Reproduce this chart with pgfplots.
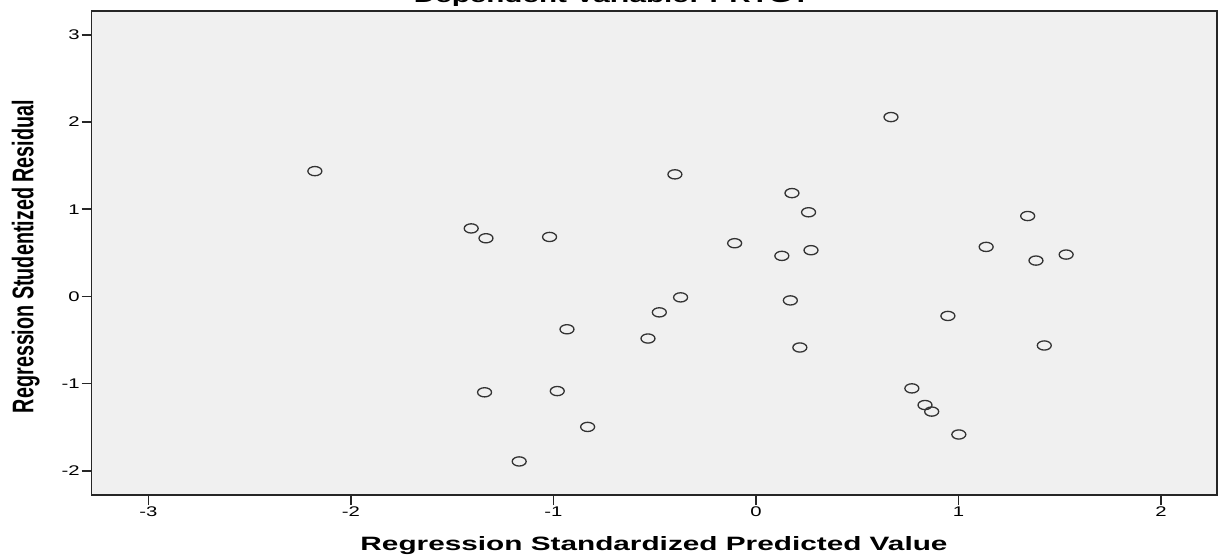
\documentclass[border=0pt]{standalone}
\usepackage{pgfplots}
\pgfplotsset{compat=1.18}
\usepackage{fontspec}
\setmainfont{Liberation Sans}
\usepackage{graphicx}
\definecolor{bg}{HTML}{F0F0F0}
\definecolor{frame}{HTML}{262626}
\definecolor{mk}{HTML}{333333}
\newcommand{\tl}[1]{\scalebox{1.45}[1]{\fontsize{7}{8}\selectfont #1}}
\begin{document}
\begin{tikzpicture}
\begin{axis}[
  scale only axis, width=562.65pt, height=242pt,
  xmin=-3.28, xmax=2.277, ymin=-2.278, ymax=3.274,
  axis background/.style={fill=bg},
  axis line style={frame, line width=0.75pt},
  xtick={-3,-2,-1,0,1,2}, ytick={-2,-1,0,1,2,3},
  xticklabels={\tl{-3},\tl{-2},\tl{-1},\tl{0},\tl{1},\tl{2}},
  yticklabels={\tl{-2},\tl{-1},\tl{0},\tl{1},\tl{2},\tl{3}},
  tick align=outside, major tick length=5pt,
  tick style={frame, line width=0.75pt},
  xtick pos=bottom, ytick pos=left,
  xticklabel style={anchor=north, inner sep=0pt, yshift=-0.5pt},
  yticklabel style={anchor=east, inner sep=0pt, xshift=-0.8pt},
]
\addplot[only marks, mark=o, mark size=2.3pt, mark options={xscale=1.52, line width=0.65pt, draw=mk}] coordinates {
(-2.178,1.437) (-0.400,1.40) (0.178,1.185) (0.260,0.965) (-1.406,0.78)
(-1.333,0.667) (-1.019,0.682) (-0.105,0.61) (0.128,0.465) (0.272,0.53)
(-0.372,-0.011) (-0.477,-0.183) (0.170,-0.046) (-0.933,-0.377) (-0.533,-0.483)
(0.217,-0.586) (-1.340,-1.10) (-0.981,-1.086) (-0.831,-1.497) (-1.169,-1.893)
(0.667,2.057) (1.342,0.922) (1.137,0.568) (1.383,0.411) (1.532,0.48)
(0.948,-0.224) (1.424,-0.563) (0.770,-1.055) (0.835,-1.246) (0.868,-1.321)
(1.002,-1.584)
};
\end{axis}
\node[anchor=base] at (281.15pt,-27.5pt) {\resizebox{293.5pt}{7pt}{\bfseries Regression Standardized Predicted Value}};
\node[rotate=90, anchor=base] at (-29.2pt,119.25pt) {\resizebox{156.5pt}{10.8pt}{\bfseries Regression Studentized Residual}};
\node[anchor=base] at (260.15pt,246pt) {\resizebox{198pt}{7pt}{\bfseries Dependent Variable: PRTGT}};
\pgfresetboundingbox
\useasboundingbox (-45.85pt,-30.5pt) rectangle (563.65pt,247.5pt);
\end{tikzpicture}
\end{document}
